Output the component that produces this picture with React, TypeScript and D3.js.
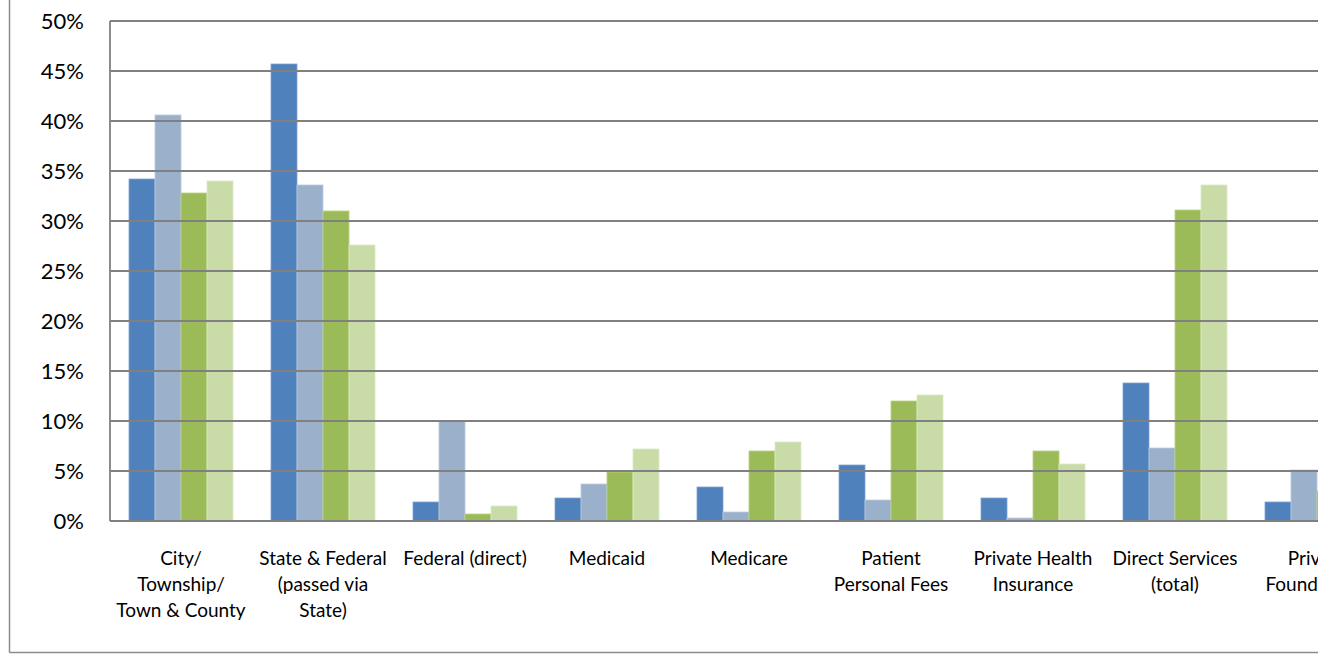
import React from 'react';
import * as d3 from 'd3';

// funding source categories (last one is cut off by the crop)
const categories = [
  ['City/', 'Township/', 'Town & County'],
  ['State & Federal', '(passed via', 'State)'],
  ['Federal (direct)'],
  ['Medicaid'],
  ['Medicare'],
  ['Patient', 'Personal Fees'],
  ['Private Health', 'Insurance'],
  ['Direct Services', '(total)'],
  ['Private', 'Foundations'],
];

const seriesA = [34.2, 45.7, 1.9, 2.3, 3.4, 5.6, 2.3, 13.8, 1.9];
const seriesB = [40.6, 33.6, 10.0, 3.7, 0.9, 2.1, 0.3, 7.3, 5.1];
const seriesC = [32.8, 31.0, 0.7, 4.9, 7.0, 12.0, 7.0, 31.1, 3.0];
const seriesD = [34.0, 27.6, 1.5, 7.2, 7.9, 12.6, 5.7, 33.6, 3.5];

const yTicks = [0, 5, 10, 15, 20, 25, 30, 35, 40, 45, 50];

const colors = ['#4F81BD', '#9BB1CB', '#9BBB59', '#C9DBA7'];
const strokes = ['#7FA3D3', '#BACBDD', '#B9D27F', '#DDEAC6'];

const App = () => {
  const W = 1333;
  const H = 656;
  const left = 110;
  const top = 21;
  const bottom = 521;
  const clipRight = 1318;
  const band = 142;

  const allSeries = [seriesA, seriesB, seriesC, seriesD];
  const idx = categories.map((_, i) => String(i));

  const x = d3.scaleBand()
    .domain(idx)
    .range([left, left + band * categories.length])
    .paddingInner(38 / 142)
    .paddingOuter(19 / 142);
  const xs = d3.scaleBand()
    .domain(['0', '1', '2', '3'])
    .range([0, x.bandwidth()]);
  const y = d3.scaleLinear().domain([0, 50]).range([bottom, top]);

  const font = 'Lato, "Open Sans", sans-serif';

  return (
    <svg width={W} height={H} style={{position: 'absolute', left: 0, top: 0, background: '#fff'}}>
      <defs>
        <clipPath id="crop">
          <rect x={0} y={0} width={clipRight} height={H} />
        </clipPath>
      </defs>
      <g clipPath="url(#crop)">
        {/* outer chart border */}
        <line x1={9.5} x2={9.5} y1={0} y2={652.5} stroke="#8c8c8c" strokeWidth={1.5} />
        <line x1={9.5} x2={W} y1={652.5} y2={652.5} stroke="#8c8c8c" strokeWidth={1.5} />

        {/* bars */}
        {allSeries.map((s, si) => (
          <g key={si}>
            {s.map((v, ci) => (
              <rect
                key={ci}
                x={(x(String(ci)) || 0) + (xs(String(si)) || 0)}
                y={y(v)}
                width={xs.bandwidth()}
                height={bottom - y(v)}
                fill={colors[si]}
                stroke={strokes[si]}
                strokeWidth={0.8}
              />
            ))}
          </g>
        ))}

        {/* gridlines */}
        {yTicks.map(t => (
          <line key={t} x1={left} x2={W} y1={y(t)} y2={y(t)} stroke="#808080" strokeWidth={1.8} />
        ))}
        <line x1={left} x2={left} y1={top} y2={bottom} stroke="#808080" strokeWidth={1.8} />

        {/* y tick labels */}
        {yTicks.map(t => (
          <text key={t} x={84} y={y(t)} dy="0.35em" textAnchor="end" fontFamily={font} fontSize={22} fill="#000">
            {t + '%'}
          </text>
        ))}

        {/* category labels */}
        {categories.map((lines, ci) => (
          <text
            key={ci}
            x={(x(String(ci)) || 0) + x.bandwidth() / 2}
            y={565}
            textAnchor="middle"
            fontFamily={font}
            fontSize={19}
            fill="#000"
          >
            {lines.map((l, li) => (
              <tspan key={li} x={(x(String(ci)) || 0) + x.bandwidth() / 2} dy={li === 0 ? 0 : 26}>{l}</tspan>
            ))}
          </text>
        ))}
      </g>
    </svg>
  );
};

export default App;
